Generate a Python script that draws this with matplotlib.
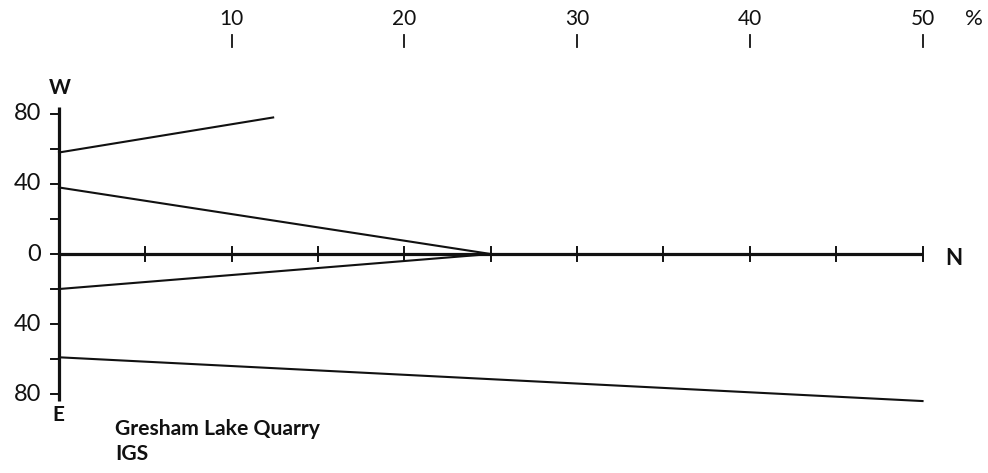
import matplotlib
matplotlib.use("Agg")
import matplotlib.pyplot as plt

# Percentage scale along the north axis
pct_ticks = [10, 20, 30, 40, 50]
north_ticks = [5, 10, 15, 20, 25, 30, 35, 40, 45, 50]
# Azimuth deviation scale (W positive, E negative)
dev_ticks = [80, 60, 40, 20, 0, -20, -40, -60, -80]
dev_labels = {80: "80", 40: "40", 0: "0", -40: "40", -80: "80"}

# Segments: (start pct, start deviation) -> (end pct, end deviation)
seg_x0 = [0, 0, 0, 0]
seg_y0 = [58, 38, -20, -59]
seg_x1 = [12.4, 25, 25, 50]
seg_y1 = [78, 0, 0, -84]

plt.rcParams['font.family'] = ['Lato', 'DejaVu Sans']

fig = plt.figure(figsize=(9.88, 4.73), dpi=100)
ax = fig.add_axes([0, 0, 1, 1])
ax.set_xlim(-3.416, 53.79)
ax.set_ylim(-125.1, 145.1)
ax.axis('off')

ink = '#111111'

# Main axes
ax.plot([0, 50], [0, 0], color=ink, lw=2.3, solid_capstyle='butt')
ax.plot([0, 0], [-84, 84], color=ink, lw=2.3, solid_capstyle='butt')

# Ticks on the north axis
for t in north_ticks:
    ax.plot([t, t], [-4, 4], color=ink, lw=1.4)

# Ticks on the deviation axis
for t in dev_ticks:
    ax.plot([-0.45, 0], [t, t], color=ink, lw=1.4)
    if t in dev_labels:
        ax.text(-1.05, t, dev_labels[t], ha='right', va='center',
                fontsize=17, color=ink)

ax.text(0.05, 89, "W", ha='center', va='bottom', fontsize=15, color=ink,
        fontweight='bold')
ax.text(-0.05, -86, "E", ha='center', va='top', fontsize=15, color=ink,
        fontweight='bold')
ax.text(51.3, -2.5, "N", ha='left', va='center', fontsize=16, color=ink,
        fontweight='bold')

# Percentage scale at the top
for t in pct_ticks:
    ax.plot([t, t], [118, 125], color=ink, lw=1.3)
    ax.text(t, 128.5, str(t), ha='center', va='bottom', fontsize=15,
            color=ink)
ax.text(53.0, 128.5, "%", ha='center', va='bottom', fontsize=16, color=ink)

# Data segments
for x0, y0, x1, y1 in zip(seg_x0, seg_y0, seg_x1, seg_y1):
    ax.plot([x0, x1], [y0, y1], color=ink, lw=1.5)

# Site caption
ax.text(3.25, -100, "Gresham Lake Quarry", ha='left', va='center',
        fontsize=15.2, color=ink, fontweight='bold')
ax.text(3.25, -114, "IGS", ha='left', va='center', fontsize=15.2, color=ink,
        fontweight='bold')

fig.savefig("out.png", dpi=100, facecolor='white')
